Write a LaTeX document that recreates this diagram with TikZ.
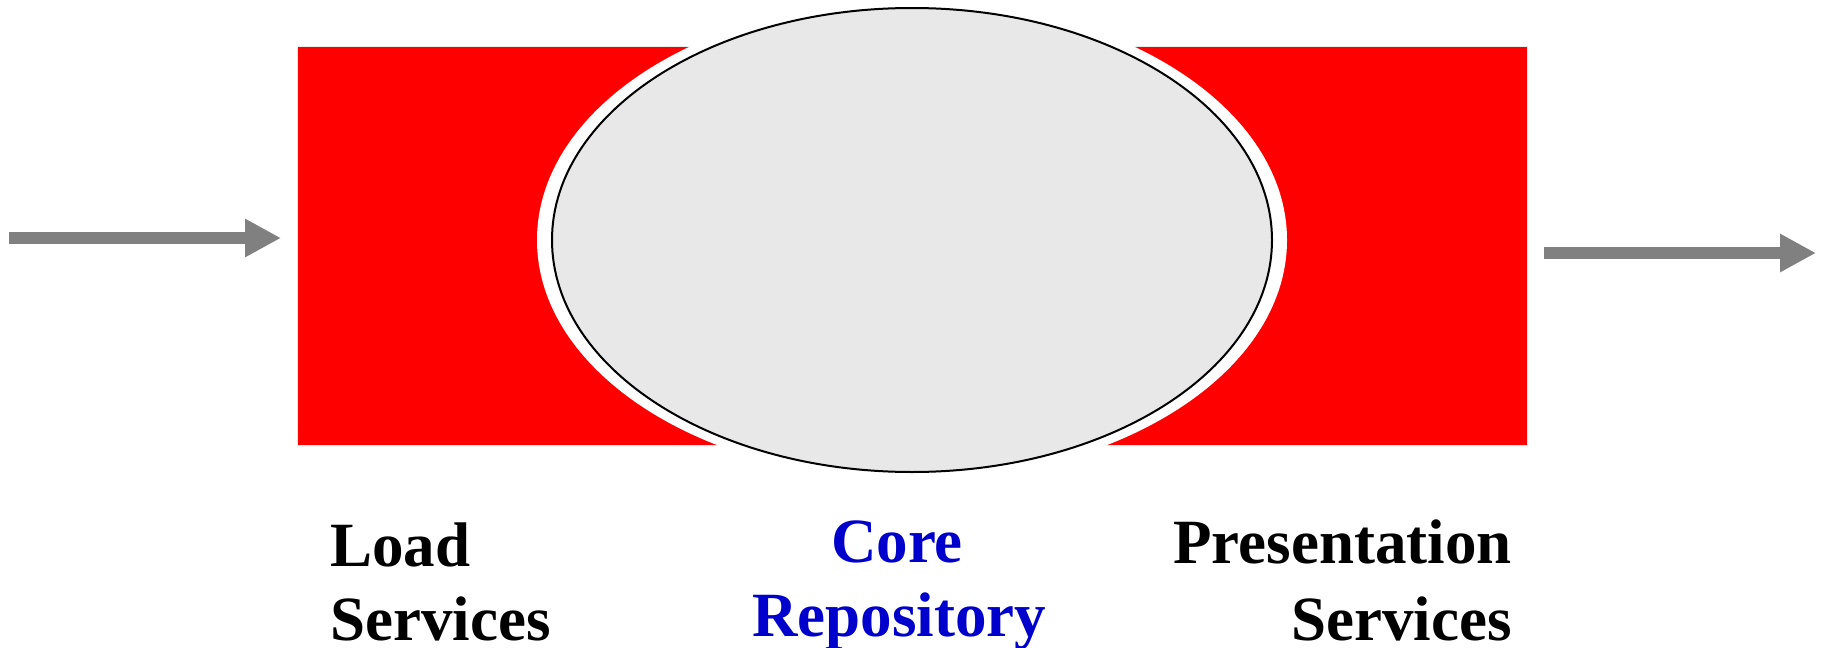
\documentclass[tikz,border=0pt]{standalone}
\usepackage{fontspec}
\setmainfont{Liberation Serif}
\usetikzlibrary{arrows.meta,shapes.geometric}
\definecolor{arrowgray}{HTML}{808080}
\definecolor{coregray}{HTML}{E8E8E8}
\definecolor{coreblue}{HTML}{0000CC}
\definecolor{bandred}{HTML}{FF0000}
\begin{document}
\begin{tikzpicture}[x=0.5pt,y=-0.5pt,
  lbl/.style={font=\fontsize{31.5pt}{37pt}\selectfont\bfseries, inner sep=0pt},
  flow/.style={draw=arrowgray, line width=6pt, -{Triangle[length=18pt,width=18pt]}}]
\fill[white] (0,0) rectangle (1822,648);
\useasboundingbox (0,0) rectangle (1822,648);
% red band
\node[draw=black!8, line width=0.6pt, fill=bandred, minimum width=615pt, minimum height=199.5pt,
      inner sep=0pt, anchor=north west] (band) at (297,46) {};
% white halo and core ellipse
\node[ellipse, fill=white, minimum width=375pt, minimum height=240pt, inner sep=0pt] (halo) at (912,240) {};
\node[ellipse, fill=coregray, draw=black, line width=1pt, minimum width=360pt, minimum height=232pt,
      inner sep=0pt] (core) at (912,240) {};
% arrows
\coordinate (inS) at (9,238);
\coordinate (inE) at (281,238);
\coordinate (outS) at (1544,253);
\coordinate (outE) at (1816,253);
\draw[flow] (inS) -- (inE);
\draw[flow] (outS) -- (outE);
% labels
\node[lbl, anchor=base west] (load1) at (330,566) {Load};
\node[lbl, anchor=base west] (load2) at (330,640) {Services};
\node[lbl, anchor=base, text=coreblue] (core1) at (897,562) {Core};
\node[lbl, anchor=base, text=coreblue] (core2) at (899,636) {Repository};
\node[lbl, anchor=base east] (pres1) at (1512,563) {Presentation};
\node[lbl, anchor=base east] (pres2) at (1512,640) {Services};
\end{tikzpicture}
\end{document}
